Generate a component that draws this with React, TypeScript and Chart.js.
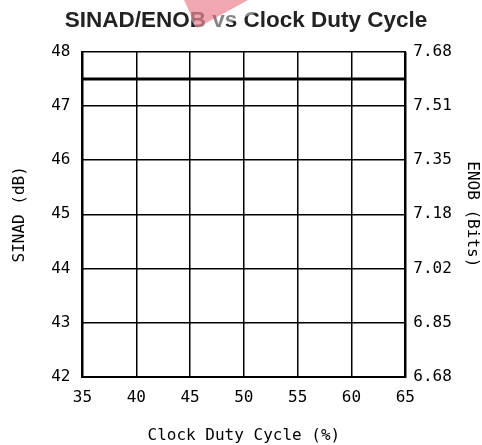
import React, { useEffect, useRef } from "react";
import { Chart, registerables } from "chart.js";

Chart.register(...registerables);

const dutyCycle = [35, 40, 45, 50, 55, 60, 65];
const sinadValues = [47.5, 47.5, 47.5, 47.5, 47.5, 47.5, 47.5];
const enobTickLabels = ["6.68", "6.85", "7.02", "7.18", "7.35", "7.51", "7.68"];
const titleText = "SINAD/ENOB vs Clock Duty Cycle";

const MONO = "'DejaVu Sans Mono', monospace";

const titleWedgePlugin = {
  id: "titleWedge",
  afterDraw(chart: any) {
    const ctx = chart.ctx;
    ctx.save();
    ctx.font = "bold 22.5px 'Liberation Sans', Arial, sans-serif";
    ctx.fillStyle = "#222";
    ctx.textAlign = "center";
    ctx.textBaseline = "alphabetic";
    ctx.fillText(titleText, 246, 27);
    // faded veil
    ctx.fillStyle = "rgba(255,255,255,0.45)";
    ctx.beginPath();
    ctx.moveTo(178, 0);
    ctx.lineTo(290, 0);
    ctx.lineTo(200, 34);
    ctx.closePath();
    ctx.fill();
    // pink wedge
    ctx.fillStyle = "rgba(228, 80, 95, 0.5)";
    ctx.beginPath();
    ctx.moveTo(184, 0);
    ctx.lineTo(248, 0);
    ctx.lineTo(197, 28);
    ctx.closePath();
    ctx.fill();
    ctx.restore();
  },
};

export default function App() {
  const ref = useRef<HTMLCanvasElement>(null);
  useEffect(() => {
    document.body.style.margin = "0";
    const chart = new Chart(ref.current!, {
      type: "line",
      data: {
        datasets: [
          {
            data: dutyCycle.map((x, i) => ({ x, y: sinadValues[i] })),
            borderColor: "#000",
            borderWidth: 3,
            pointRadius: 0,
            yAxisID: "y",
          },
        ],
      },
      options: {
        animation: false,
        responsive: false,
        layout: { padding: { left: 10, right: 0, top: 52, bottom: 0 } },
        plugins: {
          legend: { display: false },
          tooltip: { enabled: false },
          title: { display: false },
        },
        scales: {
          x: {
            type: "linear",
            min: 35,
            max: 65,
            ticks: { stepSize: 5, color: "#000", font: { family: MONO, size: 16 }, padding: 12 },
            grid: { color: "#000", lineWidth: 1.5, drawTicks: false },
            border: { color: "#000", width: 2 },
            title: {
              display: true,
              text: "Clock Duty Cycle (%)",
              color: "#000",
              font: { family: MONO, size: 16 },
              padding: { top: 6, bottom: 0 },
            },
          },
          y: {
            position: "left",
            min: 42,
            max: 48,
            ticks: { stepSize: 1, color: "#000", font: { family: MONO, size: 16 }, padding: 12 },
            grid: { color: "#000", lineWidth: 1.5, drawTicks: false },
            border: { color: "#000", width: 2 },
            title: {
              display: true,
              text: "SINAD (dB)",
              color: "#000",
              font: { family: MONO, size: 16 },
              padding: { top: 0, bottom: 10 },
            },
          },
          y2: {
            position: "right",
            min: 42,
            max: 48,
            ticks: {
              stepSize: 1,
              color: "#000",
              font: { family: MONO, size: 16 },
              padding: 8,
              callback: (_v: any, i: number) => enobTickLabels[i],
            },
            grid: { display: false, drawTicks: false },
            border: { color: "#000", width: 2 },
            title: {
              display: true,
              text: "ENOB (Bits)",
              color: "#000",
              font: { family: MONO, size: 16 },
              padding: { top: 0, bottom: 3 },
            },
          },
        },
      },
      plugins: [titleWedgePlugin],
    } as any);
    return () => chart.destroy();
  }, []);
  return <canvas ref={ref} width={482} height={445} style={{ display: "block" }} />;
}
